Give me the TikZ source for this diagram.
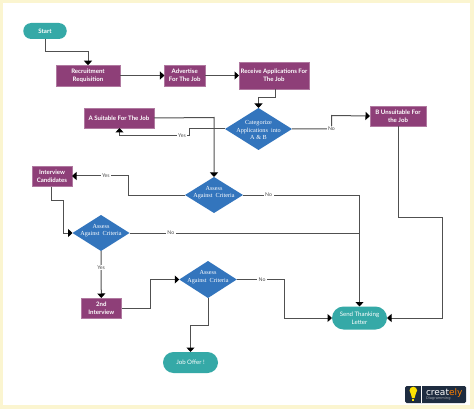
\documentclass[tikz,border=0pt]{standalone}
\usepackage{fontspec}
\setmainfont{Lato}
\newfontfamily\serifl{Liberation Serif}
\newfontfamily\logof{DejaVu Sans}
\usetikzlibrary{arrows.meta,shapes.geometric,shapes.misc,calc}
\definecolor{cpurple}{HTML}{8E3F78}
\definecolor{cblue}{HTML}{3375BD}
\definecolor{cteal}{HTML}{35A9A7}
\definecolor{cframe}{HTML}{FBF5D0}
\definecolor{cline}{HTML}{505050}
\definecolor{cnavy}{HTML}{1E2C40}
\newcommand{\dectext}[2]{\makebox[0pt]{\smash{\raisebox{#1}{\parbox{60pt}{\centering #2}}}}}
\tikzset{
 every node/.style={inner sep=0pt,outer sep=0pt},
 procbox/.style={draw=cpurple!70!white,line width=.4pt,fill=cpurple,text=white,align=center,font=\fontsize{6.1}{7.7}\selectfont\bfseries},
 termbox/.style={rounded rectangle,fill=cteal,text=white,align=center,font=\fontsize{6.1}{7.7}\selectfont},
 decbox/.style={diamond,aspect=1.6,fill=cblue,text=white,font=\fontsize{6.2}{7.3}\selectfont\serifl},
 conn/.style={draw=cline,line width=1pt,-{Triangle[length=4.5pt,width=8pt,fill=black,color=black]}},
 plainconn/.style={draw=cline,line width=1pt},
 lab/.style={fill=white,text=cline,inner xsep=1.5pt,inner ysep=1pt,font=\fontsize{5.2}{6}\selectfont},
}
\begin{document}
\begin{tikzpicture}[x=1pt,y=-1pt]
\useasboundingbox (0,0) rectangle (474,409);
\fill[cframe] (0,0) rectangle (474,409);
\fill[white] (3,3) rectangle (470,405);
% nodes
\node[termbox,minimum width=43.5pt,minimum height=16pt] (start) at (45,31) {\bfseries Start};
\node[procbox,minimum width=64pt,minimum height=20.5pt] (rec) at (88,75.5) {Recruitment\\Requisition};
\node[procbox,minimum width=40.5pt,minimum height=20.5pt] (adv) at (184.7,75.5) {Advertise\\For The Job};
\node[procbox,minimum width=70pt,minimum height=27pt] (rcv) at (274,75.5) {Receive Applications For\\The Job};
\node[decbox,minimum width=67pt,minimum height=42pt] (cat) at (258.5,129) {\dectext{-2.5pt}{Categorize\\Applications\ \ into\\A \& B}};
\node[procbox,minimum width=70pt,minimum height=20pt] (suit) at (119,118) {A Suitable For The Job};
\node[procbox,minimum width=56pt,minimum height=20pt] (uns) at (398,116) {B Unsuitable For\\the Job};
\node[decbox,minimum width=58pt,minimum height=36pt] (as1) at (214,195) {\dectext{1pt}{Assess\\Against\ \ Criteria}};
\node[procbox,minimum width=40pt,minimum height=20pt] (int) at (52,176.5) {Interview\\Candidates};
\node[decbox,minimum width=57pt,minimum height=36pt] (as2) at (101,233) {\dectext{1pt}{Assess\\Against\ \ Criteria}};
\node[procbox,minimum width=40.5pt,minimum height=20pt] (sec) at (101.3,308) {2nd\\Interview};
\node[decbox,minimum width=57.5pt,minimum height=37pt] (as3) at (208,279.5) {\dectext{1pt}{Assess\\Against\ \ Criteria}};
\node[termbox,minimum width=55pt,minimum height=21pt] (job) at (190.5,362.5) {Job Offer !};
\node[termbox,minimum width=55pt,minimum height=23pt] (send) at (359.5,318) {Send Thanking\\Letter};
% bend points
\coordinate (b1) at (45,52);
\coordinate (b2) at (88,52);
\coordinate (j1) at (359.5,233);
% connectors
\draw[conn] (start.south -| b1) -- (b1) -- (b2) -- (rec.north);
\draw[conn] (rec.east) -- (adv.west);
\draw[conn] (adv.east) -- (rcv.west);
\draw[conn] (275,89) -- (275,98) -- (258.5,98) -- (cat.north);
\draw[conn] (cat.west) -- (189,129) -- (189,136) -- node[lab,pos=.1]{Yes} (119.5,136) -- (119.5,128);
\draw[conn] (cat.east) -- node[lab,pos=1]{No} (331.5,129) -- (331.5,115.5) -- (uns.west);
\draw[conn] (suit.east) -- (214,117.5) -- (as1.north);
\draw[conn] (as1.west) -- (128.5,195) -- (128.5,176) -- node[lab,pos=.4]{Yes} (int.east |- 0,176);
\draw[conn] (as1.east) -- node[lab,pos=.22]{No} (359.5,195) -- (send.north);
\draw[conn] (51.5,186.5) -- (51.5,200) -- (63.5,200) -- (63.5,233) -- (as2.west);
\draw[plainconn] (as2.east) -- node[lab,pos=.18]{No} (j1);
\draw[conn] (as2.south) -- node[lab,pos=.35]{Yes} (sec.north);
\draw[conn] (sec.east) -- (150,308) -- (150,279.5) -- (as3.west);
\draw[conn] (as3.south) -- (208,325) -- (190.5,325) -- (job.north);
\draw[conn] (as3.east) -- node[lab,pos=.53]{No} (284.5,279.5) -- (284.5,318) -- (send.west);
\draw[conn] (uns.south) -- (398,217) -- (442,217) -- (442,318) -- (send.east);
% logo
\fill[cnavy,rounded corners=1.5pt] (405,386) rectangle (466,403);
\draw[white,line width=.5pt] (421.5,386) -- (421.5,403);
\fill[yellow!85!orange] (413.3,390.5) circle (3.8pt);
\fill[yellow!85!orange] (410.6,393) -- (416,393) -- (414.6,398) -- (412,398) -- cycle;
\fill[yellow!85!orange] (412.2,398.6) rectangle (414.4,400.6);
\node[anchor=west,text=white,font=\logof\fontsize{9}{10}\selectfont] (logo) at (426,393.3) {creat\textcolor{orange}{ely}};
\node[anchor=west,text=white!60!cnavy,font=\logof\fontsize{3.6}{4}\selectfont] (logosub) at (426,399) {Diagramming};
\end{tikzpicture}
\end{document}
